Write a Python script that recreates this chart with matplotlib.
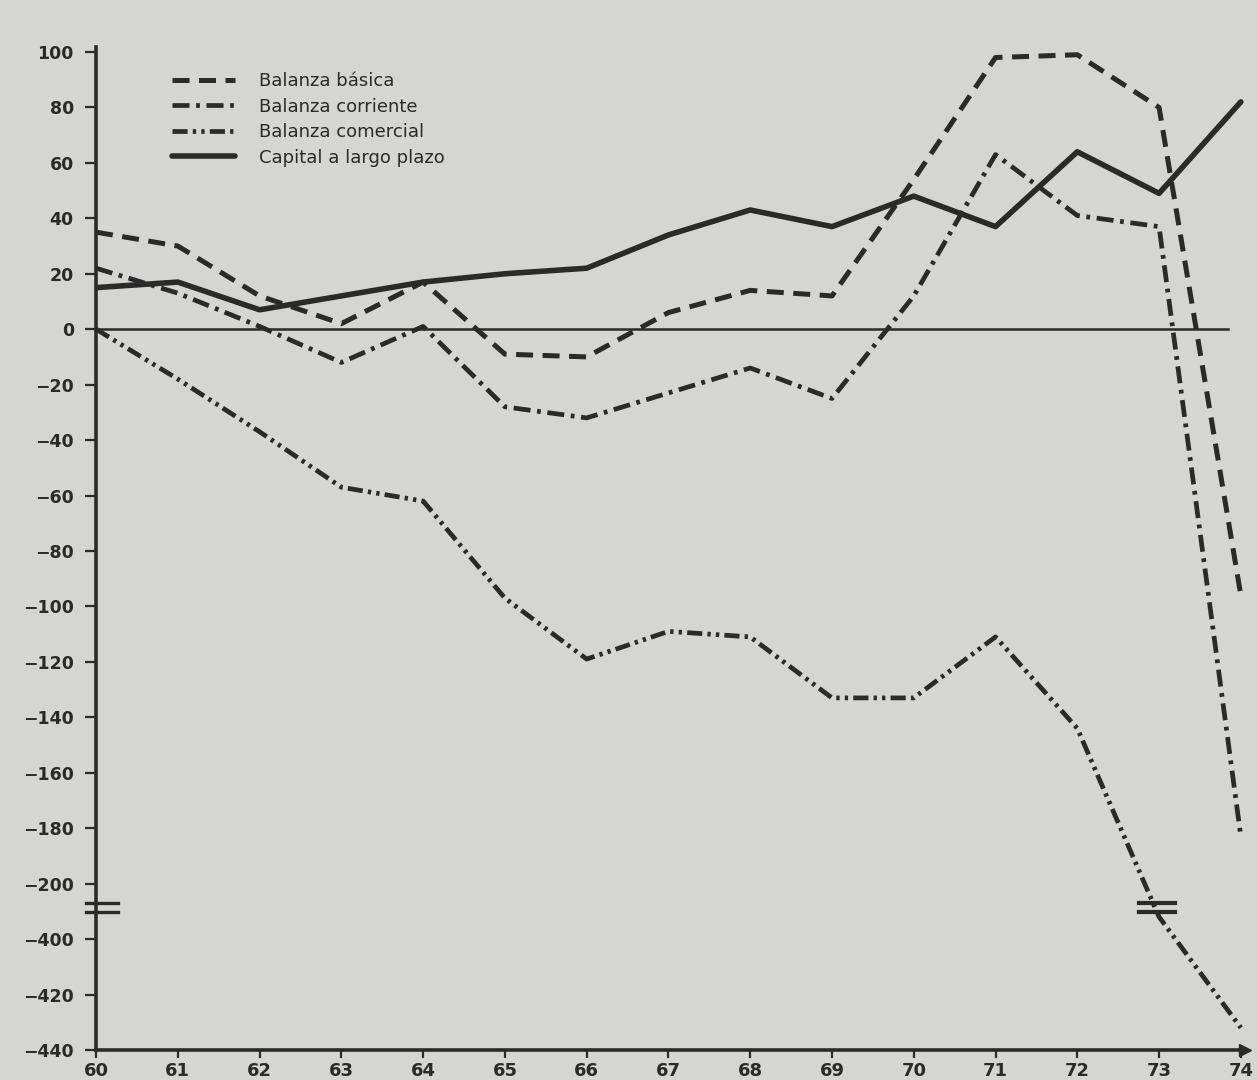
import numpy as np
import matplotlib
matplotlib.use("Agg")
import matplotlib.pyplot as plt
import matplotlib.transforms as mtransforms

# ---- data ----
years = [60, 61, 62, 63, 64, 65, 66, 67, 68, 69, 70, 71, 72, 73, 74]
basica = [35, 30, 12, 2, 17, -9, -10, 6, 14, 12, 54, 98, 99, 80, -96]
corriente = [22, 13, 1, -12, 1, -28, -32, -23, -14, -25, 12, 63, 41, 37, -183]
comercial = [0, -18, -37, -57, -62, -97, -119, -109, -111, -133, -133, -111, -144, -392, -432]
capital = [15, 17, 7, 12, 17, 20, 22, 34, 43, 37, 48, 37, 64, 49, 82]

ytick_vals = [100, 80, 60, 40, 20, 0, -20, -40, -60, -80, -100, -120, -140,
              -160, -180, -200, -400, -420, -440]
xtick_labels = [str(y) for y in years]
legend_labels = ["Balanza básica", "Balanza corriente", "Balanza comercial",
                 "Capital a largo plazo"]

INK = "#2a2a2a"
BG = "#d5d5d3"

# broken y axis: values between -392 and -205 are squeezed into a small gap
_src = [-1000, -392, -205, 1000]
_dst = [-820, -212, -205, 1000]


def fwd(y):
    return np.interp(y, _src, _dst)


def inv(v):
    return np.interp(v, _dst, _src)


fig = plt.figure(figsize=(12.57, 10.8), dpi=100, facecolor=BG)
ax = fig.add_axes([0.0764, 0.0278, 0.9140, 0.9287], facecolor=BG)
ax.set_yscale("function", functions=(fwd, inv))

ax.axhline(0, color=INK, lw=1.8, xmin=0, xmax=0.985, zorder=2)

l1, = ax.plot(years, basica, color=INK, lw=3.6,
              linestyle=(0, (3.4, 1.9)), dash_capstyle="butt", zorder=3)
l2, = ax.plot(years, corriente, color=INK, lw=3.4,
              linestyle=(0, (3.6, 1.4, 0.8, 1.4)), dash_capstyle="butt", zorder=3)
l3, = ax.plot(years, comercial, color=INK, lw=3.4,
              linestyle=(0, (3.2, 1.1, 0.7, 1.1, 0.7, 1.1)), dash_capstyle="butt", zorder=3)
l4, = ax.plot(years, capital, color=INK, lw=4.0, solid_capstyle="round", zorder=3)

ax.set_xlim(60, 74.05)
ax.set_ylim(-440, 101.8)

ax.set_xticks(years)
ax.set_xticklabels(xtick_labels, fontsize=13, fontweight="bold", color=INK)
ax.set_yticks(ytick_vals)
ax.set_yticklabels([str(v).replace("-", "\u2212") for v in ytick_vals],
                   fontsize=12.5, fontweight="bold", color=INK)
ax.tick_params(axis="y", direction="out", length=8, width=1.6, pad=8, color=INK)
ax.tick_params(axis="x", direction="out", length=6, width=1.6, pad=3, color=INK)

for s in ("top", "right"):
    ax.spines[s].set_visible(False)
for s in ("left", "bottom"):
    ax.spines[s].set_linewidth(2.6)
    ax.spines[s].set_color(INK)

# arrow at the end of the x axis
ax.plot([1.0], [0.0], marker=">", ms=8, color=INK, transform=ax.transAxes,
        clip_on=False, zorder=5)

# break marks on the y axis
blend = mtransforms.blended_transform_factory(ax.transAxes, ax.transData)
for yb in (-255, -340):
    ax.plot([-0.009, 0.019], [yb, yb], color=INK, lw=2.4, transform=blend,
            clip_on=False, zorder=5)

# break marks on the Balanza comercial line
for yb in (-255, -340):
    ax.plot([72.75, 73.2], [yb, yb], color=INK, lw=3.0, zorder=5)

leg = ax.legend([l1, l2, l3, l4], legend_labels, loc="upper left",
                bbox_to_anchor=(0.066, 0.975), frameon=False, fontsize=13,
                handlelength=3.5, handletextpad=1.3, labelspacing=0.42,
                borderpad=0.0, borderaxespad=0.0)
for t in leg.get_texts():
    t.set_color(INK)

fig.savefig("out.png", dpi=100, facecolor=BG)
